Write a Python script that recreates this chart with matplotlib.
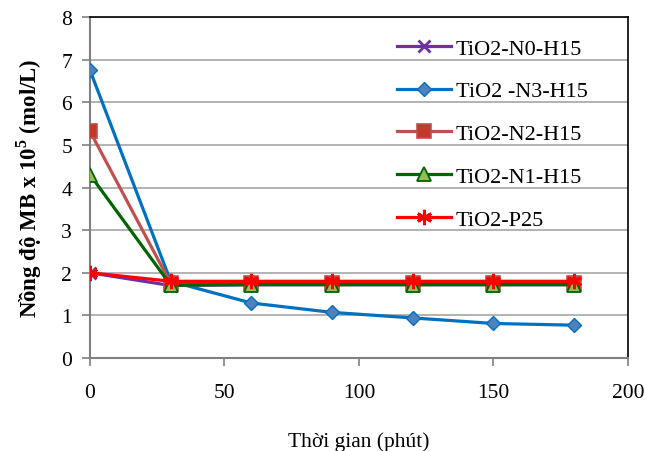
import matplotlib
matplotlib.use("Agg")
import matplotlib.pyplot as plt

plt.rcParams['font.family'] = ['Liberation Serif', 'DejaVu Serif']
plt.rcParams['mathtext.fontset'] = 'custom'
plt.rcParams['mathtext.rm'] = 'Liberation Serif'
plt.rcParams['mathtext.bf'] = 'Liberation Serif:bold'

time = [0, 30, 60, 90, 120, 150, 180]
n0_h15 = [2.0, 1.70, 1.72, 1.72, 1.72, 1.72, 1.72]
n3_h15 = [6.75, 1.80, 1.29, 1.07, 0.94, 0.81, 0.77]
n2_h15 = [5.32, 1.75, 1.75, 1.75, 1.75, 1.75, 1.75]
n1_h15 = [4.30, 1.71, 1.72, 1.72, 1.72, 1.72, 1.72]
p25 = [2.0, 1.80, 1.80, 1.80, 1.80, 1.80, 1.80]

labels = ['TiO2-N0-H15', 'TiO2 -N3-H15', 'TiO2-N2-H15', 'TiO2-N1-H15', 'TiO2-P25']
xticks = [0, 50, 100, 150, 200]
yticks = [0, 1, 2, 3, 4, 5, 6, 7, 8]

fig = plt.figure(figsize=(6.46, 4.52), dpi=100)
ax = fig.add_axes([90/646, 93/452, 538/646, 341/452])

lw = 2.3
ax.plot(time, n0_h15, color='#7030A0', lw=lw, marker='x', ms=8, mew=2, label=labels[0], zorder=3)
ax.plot(time, n3_h15, color='#0070C0', lw=lw, marker='D', ms=7.5, mfc='#4F81BD', mec='#0070C0', mew=1, label=labels[1], zorder=3)
ax.plot(time, n2_h15, color='#C0504D', lw=lw, marker='s', ms=9.5, mfc='#C0392B', mec='#C0504D', mew=1.2, label=labels[2], zorder=3)
ax.plot(time, n1_h15, color='#006400', lw=lw, marker='^', ms=9.5, mfc='#9BBB59', mec='#006400', mew=1.3, label=labels[3], zorder=3)
ax.plot(time, p25, color='#FF0000', lw=lw, marker=(6, 2, 0), ms=11, mew=2, label=labels[4], zorder=3)

ax.set_xlim(0, 200)
ax.set_ylim(0, 8)
ax.set_xticks(xticks)
ax.set_yticks(yticks)
ax.grid(axis='y', color='#A6A6A6', lw=1.2, zorder=0)
ax.set_axisbelow(True)

for s in ['left', 'bottom']:
    ax.spines[s].set_color('#808080')
    ax.spines[s].set_linewidth(1.5)
for s in ['top', 'right']:
    ax.spines[s].set_color('black')
    ax.spines[s].set_linewidth(1.2)

ax.tick_params(axis='both', direction='out', length=6, width=1.2, color='#808080', labelsize=15.5)
ax.tick_params(axis='x', pad=12)
ax.tick_params(axis='y', pad=7)

ax.set_xlabel('Thời gian (phút)', fontsize=15.5, labelpad=21)
ax.set_ylabel('Nồng độ MB x 10$^{\\mathbf{5}}$ (mol/L)', fontsize=16.5, fontweight='bold', labelpad=12)

leg = ax.legend(loc='upper left', bbox_to_anchor=(0.533, 0.997), frameon=False, fontsize=16,
                handlelength=2.45, labelspacing=1.0, handletextpad=0.2)

fig.savefig('out.png', dpi=100)
